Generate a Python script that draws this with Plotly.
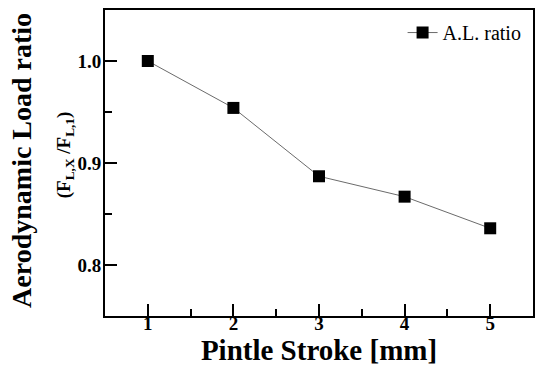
import plotly.graph_objects as go

stroke = [1, 2, 3, 4, 5]
al_ratio = [1.0, 0.954, 0.887, 0.867, 0.836]
series_name = "A.L. ratio"
x_title = "Pintle Stroke [mm]"
y_title1 = "Aerodynamic Load ratio"
y_title2 = "(F<sub>L,X</sub> /F<sub>L,1</sub>)"

FONT = "Liberation Serif, Times New Roman, serif"

fig = go.Figure()
fig.add_trace(go.Scatter(
    x=stroke, y=al_ratio, mode="lines+markers", name=series_name,
    line=dict(color="#6b6b6b", width=1),
    marker=dict(symbol="square", size=12, color="black"),
))

axis_common = dict(
    showline=True, linewidth=2, linecolor="black", mirror=True,
    ticks="inside", ticklen=12, tickwidth=2, tickcolor="black",
    showgrid=False, zeroline=False,
    tickfont=dict(family=FONT, size=19, color="black", weight="bold"),
)

fig.update_layout(
    width=535, height=367,
    margin=dict(l=105, r=0, t=10, b=51),
    plot_bgcolor="white", paper_bgcolor="white",
    font=dict(family=FONT, color="black"),
    showlegend=True,
    legend=dict(x=0.985, y=0.99, xanchor="right", yanchor="top",
                bgcolor="rgba(0,0,0,0)",
                font=dict(family=FONT, size=20, color="black")),
    xaxis=dict(range=[0.5, 5.5], dtick=1, tick0=1,
               ticklabelstandoff=-11,
               minor=dict(dtick=0.5, tick0=0.5, ticks="inside", ticklen=7,
                          tickwidth=2, tickcolor="black"),
               title=dict(text=x_title, standoff=0,
                          font=dict(family=FONT, size=29, color="black", weight="bold")),
               **axis_common),
    yaxis=dict(range=[0.75, 1.05], dtick=0.1, tick0=0.8, tickformat=".1f",
               ticklabelstandoff=-2,
               minor=dict(dtick=0.05, tick0=0.75, ticks="inside", ticklen=7,
                          tickwidth=2, tickcolor="black"),
               **axis_common),
)

fig.add_annotation(text=y_title1, xref="paper", yref="paper",
                   x=-0.194, y=0.51, xanchor="center", yanchor="middle",
                   textangle=-90, showarrow=False,
                   font=dict(family=FONT, size=28, color="black", weight="bold"))
fig.add_annotation(text=y_title2, xref="paper", yref="paper",
                   x=-0.093, y=0.526, xanchor="center", yanchor="middle",
                   textangle=-90, showarrow=False,
                   font=dict(family=FONT, size=19, color="black", weight="bold"))

fig.write_html("out.html")
